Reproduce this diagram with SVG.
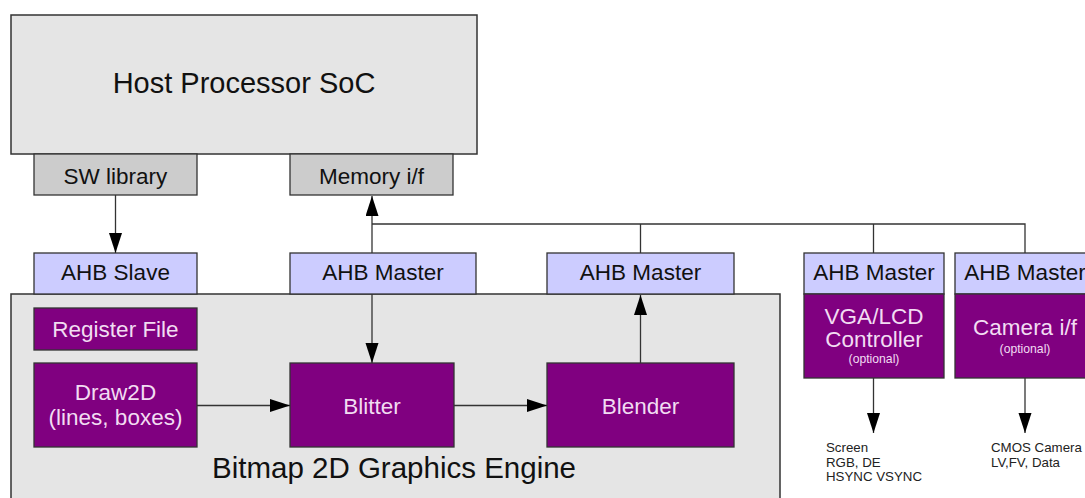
<svg xmlns="http://www.w3.org/2000/svg" width="1085" height="498" viewBox="0 0 1085 498">
<style>
text{font-family:"Liberation Sans",Arial,sans-serif;text-anchor:middle}
.host{fill:#e5e5e5;stroke:#333;stroke-width:1.5}
.gray{fill:#cccccc;stroke:#333;stroke-width:1.3}
.ahb{fill:#ccccff;stroke:#333;stroke-width:1.3}
.pur{fill:#800080;stroke:#333;stroke-width:1.3}
.dk{fill:#111;font-size:22.5px}
.lt{fill:#f2dcf2;font-size:22.5px}
.sm{fill:#f2dcf2;font-size:12.2px}
.note{fill:#222;font-size:13.3px;text-anchor:start}
.con{stroke:#333;stroke-width:1.3;fill:none}
</style>
<defs>
<marker id="ah" markerUnits="userSpaceOnUse" markerWidth="22" markerHeight="14" refX="20" refY="6.5" orient="auto">
<path d="M0,0 L20,6.5 L0,13 Z" fill="#000"/>
</marker>
</defs>
<rect width="1085" height="498" fill="#fff"/>

<g id="host">
<rect class="host" x="11" y="15" width="466" height="139"/>
<text x="244" y="93" style="font-size:29px;fill:#111">Host Processor SoC</text>
</g>
<g id="swlib">
<rect class="gray" x="34" y="154" width="163" height="41"/>
<text class="dk" x="115.5" y="184">SW library</text>
</g>
<g id="memif">
<rect class="gray" x="290" y="154" width="163" height="41"/>
<text class="dk" x="371.5" y="184">Memory i/f</text>
</g>

<g id="engine">
<rect class="host" x="11" y="294" width="769" height="210"/>
<text x="394" y="478" style="font-size:29.5px;fill:#111">Bitmap 2D Graphics Engine</text>
</g>

<g id="ahbslave">
<rect class="ahb" x="34" y="253" width="163" height="41"/>
<text class="dk" x="115.5" y="280">AHB Slave</text>
</g>
<g id="ahbmaster1">
<rect class="ahb" x="290" y="253" width="186" height="41"/>
<text class="dk" x="383" y="280">AHB Master</text>
</g>
<g id="ahbmaster2">
<rect class="ahb" x="547" y="253" width="187" height="41"/>
<text class="dk" x="640.5" y="280">AHB Master</text>
</g>

<g id="regfile">
<rect class="pur" x="34" y="308" width="163" height="42"/>
<text class="lt" x="115.5" y="337">Register File</text>
</g>
<g id="draw2d">
<rect class="pur" x="34" y="363" width="163" height="84"/>
<text class="lt" x="115.5" y="400">Draw2D</text>
<text class="lt" x="115.5" y="425">(lines, boxes)</text>
</g>
<g id="blitter">
<rect class="pur" x="290" y="363" width="164" height="84"/>
<text class="lt" x="372" y="414">Blitter</text>
</g>
<g id="blender">
<rect class="pur" x="547" y="363" width="187" height="84"/>
<text class="lt" x="640.5" y="414">Blender</text>
</g>

<g id="vga">
<rect class="ahb" x="804" y="253" width="140" height="41"/>
<text class="dk" x="874" y="280">AHB Master</text>
<rect class="pur" x="804" y="294" width="140" height="84"/>
<text class="lt" x="874" y="324">VGA/LCD</text>
<text class="lt" x="874" y="347">Controller</text>
<text class="sm" x="874" y="363">(optional)</text>
</g>
<g id="camera">
<rect class="ahb" x="955" y="253" width="140" height="41"/>
<text class="dk" x="1025" y="280">AHB Master</text>
<rect class="pur" x="955" y="294" width="140" height="84"/>
<text class="lt" x="1025" y="335">Camera i/f</text>
<text class="sm" x="1025" y="353">(optional)</text>
</g>

<g id="screen-note">
<text class="note" x="826" y="452">Screen</text>
<text class="note" x="826" y="467">RGB, DE</text>
<text class="note" x="826" y="481">HSYNC VSYNC</text>
</g>
<g id="cmos-note">
<text class="note" x="991" y="452">CMOS Camera</text>
<text class="note" x="991" y="467">LV,FV, Data</text>
</g>

<g id="connectors">
<line class="con" x1="115.5" y1="195" x2="115.5" y2="253" marker-end="url(#ah)"/>
<line class="con" x1="372" y1="253" x2="372" y2="196" marker-end="url(#ah)"/>
<polyline class="con" points="372,224 1025,224 1025,253"/>
<line class="con" x1="640.5" y1="224" x2="640.5" y2="253"/>
<line class="con" x1="873.5" y1="224" x2="873.5" y2="253"/>
<line class="con" x1="372" y1="294" x2="372" y2="363" marker-end="url(#ah)"/>
<line class="con" x1="640.5" y1="363" x2="640.5" y2="295" marker-end="url(#ah)"/>
<line class="con" x1="197" y1="405.5" x2="290" y2="405.5" marker-end="url(#ah)"/>
<line class="con" x1="454" y1="405.5" x2="547" y2="405.5" marker-end="url(#ah)"/>
<line class="con" x1="873.5" y1="378" x2="873.5" y2="433" marker-end="url(#ah)"/>
<line class="con" x1="1025" y1="378" x2="1025" y2="433" marker-end="url(#ah)"/>
</g>
</svg>
